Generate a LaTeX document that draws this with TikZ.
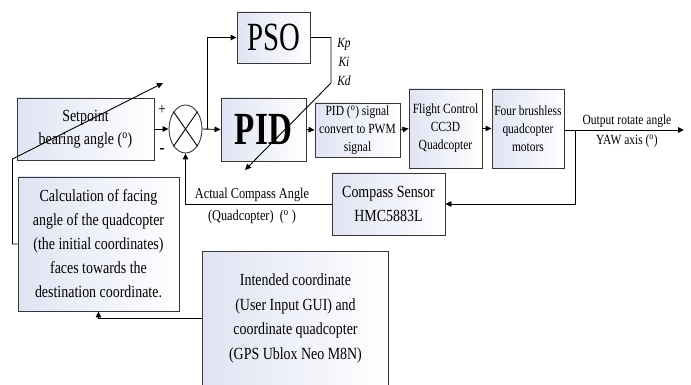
\documentclass[tikz,border=0pt]{standalone}
\usepackage{fontspec}
\setmainfont[FakeStretch=0.82]{Liberation Serif}
\newfontfamily\bigfnt[FakeStretch=0.72]{Liberation Serif}
\usetikzlibrary{arrows.meta,shapes.geometric}
\definecolor{boxl}{RGB}{224,227,243}
\definecolor{edge}{RGB}{55,55,55}
\newcommand\fsz[2]{\fontsize{#1}{#2}\selectfont}
\tikzset{
  blk/.style={draw=edge, line width=0.9pt, left color=boxl, right color=white,
    inner sep=0pt, align=center, text=black},
  arr/.style={line width=0.9pt, -{Triangle[length=6pt,width=5.5pt]}},
  ln/.style={line width=0.9pt},
}
\begin{document}
\begin{tikzpicture}[x=1pt,y=-1pt]
\useasboundingbox[fill=white] (0,0) rectangle (691,385);

% blocks
\node[blk, minimum width=137pt, minimum height=62pt, font=\fsz{17}{23}] (setp) at (85.5,129)
  {Setpoint\\bearing angle (\textsuperscript{o})};
\node[draw=edge, line width=0.9pt, ellipse, minimum width=33pt, minimum height=48pt,
  inner sep=0pt, fill=white] (sum) at (185.5,129) {};
\draw[ln] (sum.north west) -- (sum.south east);
\draw[ln] (sum.north east) -- (sum.south west);
\node[blk, minimum width=73pt, minimum height=51pt, font=\bigfnt\fsz{40}{40}] (pso) at (273.5,37.5) {PSO};
\node[blk, minimum width=85pt, minimum height=63pt, font=\bigfnt\bfseries\fsz{46}{46}] (pid) at (263.5,129.5) {PID};
\node[blk, minimum width=85pt, minimum height=54pt, font=\fsz{14}{18}] (conv) at (357.5,130)
  {PID (\textsuperscript{o}) signal\\convert to PWM\\signal};
\node[blk, minimum width=73pt, minimum height=79pt, font=\fsz{14}{18}] (fc) at (445.5,128.5)
  {Flight Control\\CC3D\\Quadcopter};
\node[blk, minimum width=72pt, minimum height=79pt, font=\fsz{14}{18}] (mot) at (528,128.5)
  {Four brushless\\quadcopter\\motors};
\node[blk, minimum width=113pt, minimum height=62pt, font=\fsz{17}{24}] (comp) at (388.5,204)
  {Compass Sensor\\HMC5883L};
\node[blk, minimum width=161pt, minimum height=134pt, font=\fsz{17}{24}] (calc) at (98.5,244)
  {Calculation of facing\\angle of the quadcopter\\(the initial coordinates)\\faces towards the\\destination coordinate.};
\node[blk, draw=none, minimum width=185pt, minimum height=133pt, font=\fsz{17}{24.5}] (gps) at (295.5,318.5)
  {Intended coordinate\\(User Input GUI) and\\coordinate quadcopter\\(GPS Ublox Neo M8N)};
\draw[ln, draw=edge] (gps.south west) -- (gps.north west) -- (gps.north east) -- (gps.south east);

% labels
\node[font=\fsz{16}{16}] (plus) at (162,110) {+};
\node[font=\bfseries\fsz{18}{18}] (minus) at (162,151) {-};
\node[font=\itshape\fsz{14}{19}, align=center] (gains) at (344,62) {Kp\\Ki\\Kd};
\node[font=\fsz{14}{20}, align=center] (outtxt) at (627,131) {Output rotate angle\\YAW axis (\textsuperscript{o})};
\node[font=\fsz{15}{22}, align=center] (acttxt) at (252,206) {Actual Compass Angle\\(Quadcopter)\ \ (\textsuperscript{o} )};

% coordinates
\coordinate (br) at (207,129);
\coordinate (kc1) at (331,37.5);
\coordinate (kc2) at (331,83);
\coordinate (ktip) at (245,170);
\coordinate (outend) at (684,130);
\coordinate (fbk) at (575,130);
\coordinate (lft1) at (12.5,244);
\coordinate (lft2) at (12.5,159);
\coordinate (stip) at (163,83);

% connectors
\draw[arr] (setp.east) -- (sum.west);
\draw[arr] (sum.east) -- (pid.west);
\draw[arr] (br) |- (pso.west);
\draw[arr] (pso.east) -- (kc1) -- (kc2) -- (ktip);
\draw[arr] (pid.east) -- (conv.west);
\draw[arr] (conv.east) -- (fc.west);
\draw[arr] (fc.east) -- (mot.west);
\draw[arr] (mot.east |- outend) -- (outend);
\draw[arr] (fbk) |- (comp.east);
\draw[arr] (comp.west) -| (sum.south);
\draw[arr] (calc.west) -- (lft1) -- (lft2) -- (stip);
\draw[arr] (gps.west) -| (calc.south);
\end{tikzpicture}
\end{document}
